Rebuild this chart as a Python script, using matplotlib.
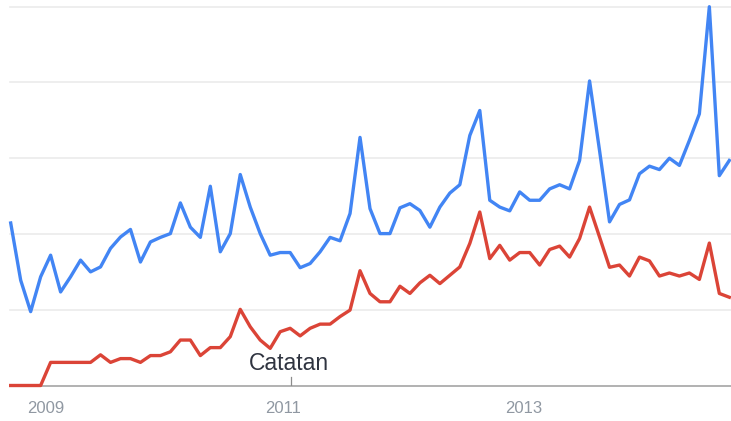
import numpy as np
import matplotlib as mpl
import matplotlib.pyplot as plt

mpl.rcParams.update({
    "font.family": ["Liberation Sans", "DejaVu Sans"],
})

BLUE = "#4285f4"
RED = "#db4437"
GRID = "#ebebeb"
BASE = "#ababab"

# monthly search interest (0-100 scale)
blue_vals = [
    42.9, 27.8, 19.5, 28.7, 34.4, 24.7, 28.7, 33.1, 30.0, 31.3,
    36.2, 39.2, 41.2, 32.6, 37.9, 39.1, 40.1, 48.2, 41.8, 39.1,
    52.6, 35.3, 40.1, 55.7, 47.1, 40.1, 34.4, 35.1, 35.1, 31.1,
    32.2, 35.3, 39.1, 38.2, 45.4, 65.5, 46.7, 40.1, 40.1, 46.9,
    48.0, 46.2, 41.8, 47.1, 50.8, 53.0, 66.0, 72.6, 48.9, 47.1,
    46.1, 51.1, 48.9, 48.9, 51.9, 53.0, 51.9, 59.4, 80.4, 62.0,
    43.2, 47.8, 49.0, 55.9, 57.9, 57.0, 60.0, 58.1, 64.7, 71.7,
    100.0, 55.4, 59.4,
]
red_vals = [
    0.0, 0.0, 0.0, 0.0, 6.1, 6.1, 6.1, 6.1, 6.1, 8.1,
    6.1, 7.1, 7.1, 6.1, 7.9, 7.9, 8.9, 12.0, 12.0, 7.9,
    10.0, 10.0, 12.9, 20.1, 15.5, 12.0, 9.8, 14.2, 15.1, 13.1,
    15.1, 16.2, 16.2, 18.2, 19.9, 30.3, 24.3, 22.1, 22.1, 26.2,
    24.3, 27.1, 29.1, 26.9, 29.1, 31.3, 37.5, 45.8, 33.5, 37.0,
    33.1, 35.1, 35.1, 31.8, 35.9, 36.8, 33.9, 38.8, 47.1, 39.2,
    31.2, 31.8, 28.9, 33.9, 32.9, 28.9, 29.7, 28.9, 29.7, 28.0,
    37.6, 24.3, 23.3,
]
year_labels = ["2009", "2011", "2013"]
year_pos = [3.5, 27.3, 51.4]
note_text = "Catatan"
note_x = 28.1

months = np.arange(len(blue_vals))

fig = plt.figure(figsize=(7.31, 4.21), dpi=100)
W, H = 731, 421
ax = fig.add_axes([10 / W, 35.5 / H, 721 / W, 378.8 / H])
ax.set_xlim(-0.07, 72.17)
ax.set_ylim(0, 100)

for s in ("top", "left", "right"):
    ax.spines[s].set_visible(False)
ax.spines["bottom"].set_color(BASE)
ax.spines["bottom"].set_linewidth(1.3)
ax.spines["bottom"].set_zorder(1)

for gy in (20, 40, 60, 80, 100):
    ax.axhline(gy, color=GRID, lw=1.2, zorder=0, clip_on=False)

ax.set_yticks([])
ax.set_xticks(year_pos, year_labels)
ax.tick_params(axis="x", length=0, pad=11.5, labelsize=12, labelcolor="#9098a2")

ax.plot(months, blue_vals, color=BLUE, lw=2.4, solid_joinstyle="round",
        clip_on=False, zorder=3)
ax.plot(months, red_vals, color=RED, lw=2.4, solid_joinstyle="round",
        clip_on=False, zorder=3)

# annotation marker
ax.plot([note_x, note_x], [0, 2.2], color="#8c8c8c", lw=0.9, zorder=2)
ax.text(note_x - 0.2, 5.8, note_text, ha="center", va="center",
        fontsize=16.5, color="#2f3440", zorder=4)

fig.savefig("out.png", dpi=100)
